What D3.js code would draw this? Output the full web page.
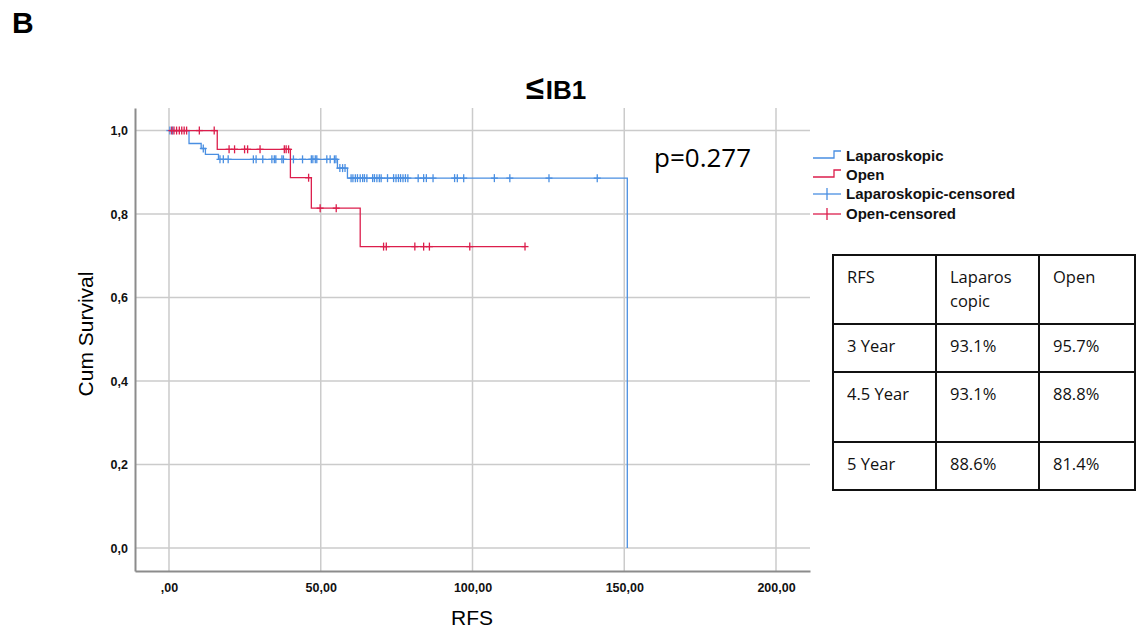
<!DOCTYPE html>
<html>
<head>
<meta charset="utf-8">
<script src="https://cdn.jsdelivr.net/npm/d3@7"></script>
<style>
  body { margin: 0; background: #fff; }
  svg { display: block; }
</style>
</head>
<body>
<div id="chart"></div>
<script>
// x ticks and labels
var xTicks = [0, 50, 100, 150, 200];
var xTickLabels = [",00", "50,00", "100,00", "150,00", "200,00"];
var yTicks = [0, 0.2, 0.4, 0.6, 0.8, 1.0];
var yTickLabels = ["0,0", "0,2", "0,4", "0,6", "0,8", "1,0"];

// Laparoskopic: event times and survival after each event
var lapTimes = [0, 6.6, 10.6, 12.0, 16.3, 55.5, 58.8, 151.0];
var lapSurv  = [1, 0.969, 0.957, 0.943, 0.931, 0.910, 0.886, 0];
var lapCensored = [0.3, 1.2, 11.3,
    16.8, 17.9, 19.5, 27.8, 28.7, 30.9, 33.9, 34.7, 35.2, 37.2, 37.7, 41.0, 44.0,
    46.9, 47.4, 48.2, 48.7, 52.0, 53.1, 54.5, 55.0,
    56.3, 57.2, 58.0,
    60.0, 60.6, 61.4, 62.1, 63.0, 63.8, 64.4, 65.2, 67.1, 67.7, 68.5, 69.3, 69.9,
    72.0, 74.0, 74.8, 75.6, 76.3, 77.1, 77.9, 78.7, 82.1, 83.9, 84.8, 87.0,
    94.1, 95.0, 97.1, 107.2, 112.3, 125.2, 141.1];

// Open
var openTimes = [0, 15.9, 40.0, 46.9, 63.0];
var openSurv  = [1, 0.955, 0.887, 0.814, 0.722];
var openCensored = [0.9, 1.65, 2.5, 3.4, 4.2, 5.0, 5.8, 10.0, 14.9,
    19.8, 21.6, 24.9, 25.9, 30.0, 38.0, 38.6, 39.4,
    46.0, 49.8, 55.1,
    70.7, 71.6, 81.0, 83.9, 85.8, 99.1, 117.3];

var seriesNames = ["Laparoskopic", "Open"];
var legendLabels = ["Laparoskopic", "Open", "Laparoskopic-censored", "Open-censored"];

var tableHeader = ["RFS", "Laparos\ncopic", "Open"];
var tableRows = [
    ["3 Year", "93.1%", "95.7%"],
    ["4.5 Year", "93.1%", "88.8%"],
    ["5 Year", "88.6%", "81.4%"]
];

var width = 1136, height = 629;
var blue = "#4a8fe2", red = "#dc1e4c";

var svg = d3.select("#chart").append("svg")
    .attr("width", width)
    .attr("height", height);

var x = d3.scaleLinear().domain([-11.2, 211.2]).range([135, 810]);
var y = d3.scaleLinear().domain([-0.055, 1.054]).range([571, 108]);

// grid
svg.append("g").selectAll("line.vg")
    .data(xTicks).enter().append("line")
    .attr("x1", function(d) { return x(d); })
    .attr("x2", function(d) { return x(d); })
    .attr("y1", y.range()[1]).attr("y2", y.range()[0])
    .attr("stroke", "#cbcbcb").attr("stroke-width", 1.5);

svg.append("g").selectAll("line.hg")
    .data(yTicks).enter().append("line")
    .attr("y1", function(d) { return y(d); })
    .attr("y2", function(d) { return y(d); })
    .attr("x1", x.range()[0]).attr("x2", x.range()[1])
    .attr("stroke", "#cbcbcb").attr("stroke-width", 1.5);

// axes
var xAxis = d3.axisBottom(x)
    .tickValues(xTicks)
    .tickSize(0)
    .tickPadding(12)
    .tickFormat(function(d, i) { return xTickLabels[i]; });

var yAxis = d3.axisLeft(y)
    .tickValues(yTicks)
    .tickSize(0)
    .tickPadding(7)
    .tickFormat(function(d, i) { return yTickLabels[i]; });

var gx = svg.append("g")
    .attr("transform", "translate(0," + y.range()[0] + ")")
    .call(xAxis);
var gy = svg.append("g")
    .attr("transform", "translate(" + x.range()[0] + ",0)")
    .call(yAxis);

[gx, gy].forEach(function(g) {
    g.select(".domain").attr("stroke", "#8c8c8c").attr("stroke-width", 2);
    g.selectAll("text")
        .attr("font-family", "Liberation Sans, Arial, sans-serif")
        .attr("font-weight", "bold")
        .attr("font-size", "12.5px")
        .attr("fill", "#111");
});

// step curves
function stepPoints(times, surv, censored) {
    var pts = times.map(function(t, i) { return [t, surv[i]]; });
    var last = d3.max(times.concat(censored));
    if (last > times[times.length - 1]) pts.push([last, surv[surv.length - 1]]);
    return pts;
}

function survAt(times, surv, t) {
    var i = d3.bisectRight(times, t) - 1;
    return surv[Math.max(0, i)];
}

var line = d3.line()
    .x(function(d) { return x(d[0]); })
    .y(function(d) { return y(d[1]); })
    .curve(d3.curveStepAfter);

var series = [
    {name: seriesNames[0], times: lapTimes, surv: lapSurv, cens: lapCensored, color: blue},
    {name: seriesNames[1], times: openTimes, surv: openSurv, cens: openCensored, color: red}
];

series.forEach(function(s) {
    svg.append("path")
        .datum(stepPoints(s.times, s.surv, s.cens))
        .attr("d", line)
        .attr("fill", "none")
        .attr("stroke", s.color)
        .attr("stroke-width", 1.3);

    var marks = svg.append("g").selectAll("g")
        .data(s.cens).enter().append("g")
        .attr("transform", function(t) {
            return "translate(" + x(t) + "," + y(survAt(s.times, s.surv, t)) + ")";
        })
        .attr("stroke", s.color)
        .attr("stroke-width", 1.3);
    marks.append("line").attr("x1", 0).attr("x2", 0).attr("y1", -4).attr("y2", 4);
    marks.append("line").attr("x1", -3.5).attr("x2", 3.5).attr("y1", 0).attr("y2", 0);
});

// titles
svg.append("text")
    .attr("x", 12).attr("y", 33)
    .attr("font-family", "Liberation Sans, Arial, sans-serif")
    .attr("font-weight", "bold").attr("font-size", "30px")
    .text("B");

var title = svg.append("text")
    .attr("x", 558).attr("y", 99)
    .attr("text-anchor", "middle")
    .attr("font-family", "Liberation Sans, Arial, sans-serif")
    .attr("font-weight", "bold").attr("font-size", "26px");
title.append("tspan").attr("font-size", "33px").attr("dx", -2).text("≤");
title.append("tspan").attr("dx", 2).text("IB1");

svg.append("text")
    .attr("transform", "translate(93,334) rotate(-90)")
    .attr("text-anchor", "middle")
    .attr("font-family", "Liberation Sans, Arial, sans-serif")
    .attr("font-size", "21px")
    .text("Cum Survival");

svg.append("text")
    .attr("x", 472).attr("y", 625)
    .attr("text-anchor", "middle")
    .attr("font-family", "Liberation Sans, Arial, sans-serif")
    .attr("font-size", "21px")
    .text("RFS");

svg.append("text")
    .attr("x", 654).attr("y", 167)
    .attr("font-family", "Open Sans, sans-serif")
    .attr("font-size", "26px")
    .text("p=0.277");

// legend
var legend = svg.append("g").attr("transform", "translate(813,0)");
var legendY = [156, 175, 194, 214];
legendLabels.forEach(function(lbl, i) {
    var c = (i % 2 === 0) ? blue : red;
    var yy = legendY[i];
    if (i < 2) {
        legend.append("path")
            .attr("d", "M0," + (yy + 2) + "H21V" + (yy - 5) + "H28")
            .attr("fill", "none").attr("stroke", c).attr("stroke-width", 1.3);
    } else {
        legend.append("line").attr("x1", 0).attr("x2", 28).attr("y1", yy).attr("y2", yy)
            .attr("stroke", c).attr("stroke-width", 1.3);
        legend.append("line").attr("x1", 14).attr("x2", 14).attr("y1", yy - 6).attr("y2", yy + 6)
            .attr("stroke", c).attr("stroke-width", 1.3);
    }
    legend.append("text")
        .attr("x", 33).attr("y", yy + 5)
        .attr("font-family", "Liberation Sans, Arial, sans-serif")
        .attr("font-weight", "bold").attr("font-size", "15px")
        .attr("fill", "#111")
        .text(lbl);
});

// table
var colX = [833, 936, 1039, 1135];
var rowY = [255, 324, 372, 442, 490];
var table = svg.append("g");
var allRows = [tableHeader].concat(tableRows);
allRows.forEach(function(row, r) {
    row.forEach(function(cell, c) {
        var t = table.append("text")
            .attr("font-family", "Open Sans, sans-serif")
            .attr("font-size", "16.5px")
            .attr("fill", "#111");
        cell.split("\n").forEach(function(part, k) {
            t.append("tspan")
                .attr("x", colX[c] + 14)
                .attr("y", rowY[r] + 28 + k * 24)
                .text(part);
        });
    });
});
colX.forEach(function(cx) {
    table.append("line").attr("x1", cx).attr("x2", cx)
        .attr("y1", rowY[0] - 1).attr("y2", rowY[rowY.length - 1] + 1)
        .attr("stroke", "#111").attr("stroke-width", 2);
});
rowY.forEach(function(ry) {
    table.append("line").attr("y1", ry).attr("y2", ry)
        .attr("x1", colX[0] - 1).attr("x2", colX[colX.length - 1] + 1)
        .attr("stroke", "#111").attr("stroke-width", 2);
});
</script>
</body>
</html>
